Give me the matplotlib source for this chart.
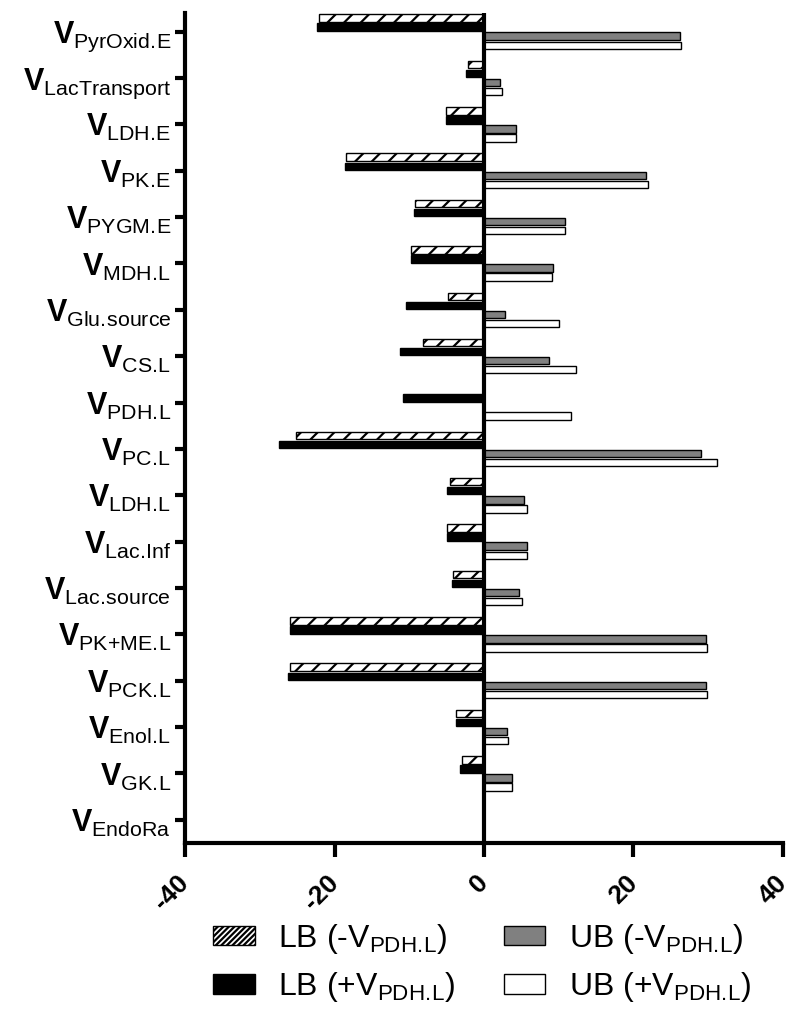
import matplotlib
matplotlib.use("Agg")
import matplotlib.pyplot as plt
import numpy as np
from matplotlib.patches import Patch

plt.rcParams['font.family'] = ['Liberation Sans', 'DejaVu Sans']
plt.rcParams['mathtext.fontset'] = 'custom'
plt.rcParams['mathtext.rm'] = 'Liberation Sans'
plt.rcParams['mathtext.bf'] = 'Liberation Sans:bold'
plt.rcParams['hatch.linewidth'] = 1.6

# fluxes, top to bottom
fluxes = ['PyrOxid.E', 'LacTransport', 'LDH.E', 'PK.E', 'PYGM.E', 'MDH.L',
          'Glu.source', 'CS.L', 'PDH.L', 'PC.L', 'LDH.L', 'Lac.Inf',
          'Lac.source', 'PK+ME.L', 'PCK.L', 'Enol.L', 'GK.L', 'EndoRa']

# lower bounds (negative) and upper bounds, without / with V_PDH.L
lb_minus = [-22.1, -2.2, -5.1, -18.4, -9.2, -9.7, -4.8, -8.1, 0.0, -25.1,
            -4.5, -4.9, -4.1, -25.9, -26.0, -3.7, -3.0, 0.0]
lb_plus = [-22.3, -2.4, -5.1, -18.6, -9.3, -9.8, -10.4, -11.2, -10.9, -27.4,
           -5.0, -5.0, -4.3, -25.9, -26.2, -3.8, -3.2, 0.0]
ub_minus = [26.2, 2.2, 4.3, 21.7, 10.9, 9.2, 2.8, 8.7, 0.0, 29.0,
            5.3, 5.7, 4.7, 29.7, 29.7, 3.1, 3.7, 0.0]
ub_plus = [26.4, 2.4, 4.3, 21.9, 10.9, 9.1, 10.1, 12.3, 11.7, 31.2,
           5.7, 5.7, 5.1, 29.9, 29.9, 3.2, 3.8, 0.0]


def sub(s):
    # mathtext puts a gap after '.', pull it back
    return s.replace('.', r'.\!').replace('+', '{+}')


fig = plt.figure(figsize=(7.92, 10.09), dpi=100)
ax = fig.add_axes([0.2336, 0.1645, 0.755, 0.8225])

y = np.arange(len(fluxes))
pitch = 0.195
h = 0.16

ax.barh(y - 1.5 * pitch, lb_minus, height=h, color='white', edgecolor='black',
        hatch='//', linewidth=1.0)
ax.barh(y - 0.5 * pitch, lb_plus, height=h, color='black', edgecolor='black',
        linewidth=1.0)
ax.barh(y + 0.5 * pitch, ub_minus, height=h, color='#808080', edgecolor='black',
        linewidth=1.0)
ax.barh(y + 1.5 * pitch, ub_plus, height=h, color='white', edgecolor='black',
        linewidth=1.0)

ax.axvline(0, color='black', linewidth=3, zorder=5)

ax.set_xlim(-40, 40)
ax.set_ylim(17.5, -0.4)
ax.set_xticks([-40, -20, 0, 20, 40])
ax.set_xticklabels(['-40', '-20', '0', '20', '40'], rotation=45,
                   ha='right', va='center', rotation_mode='anchor',
                   fontsize=19, fontweight='bold')
ax.set_yticks(y)
ax.set_yticklabels([r'$\mathbf{V}_{\mathrm{' + sub(f) + '}}$' for f in fluxes],
                   fontsize=22)

for s in ['top', 'right']:
    ax.spines[s].set_visible(False)
for s in ['left', 'bottom']:
    ax.spines[s].set_linewidth(3)
ax.tick_params(axis='x', length=10, width=3, pad=16)
ax.tick_params(axis='y', length=7, width=3, pad=3)

handles = [Patch(facecolor='white', edgecolor='black', hatch='//////', linewidth=1),
           Patch(facecolor='black', edgecolor='black', linewidth=1),
           Patch(facecolor='#808080', edgecolor='black', linewidth=1),
           Patch(facecolor='white', edgecolor='black', linewidth=1)]
labels = [r'LB (-V$_{\mathrm{' + sub('PDH.L') + '}}$)',
          r'LB (+V$_{\mathrm{' + sub('PDH.L') + '}}$)',
          r'UB (-V$_{\mathrm{' + sub('PDH.L') + '}}$)',
          r'UB (+V$_{\mathrm{' + sub('PDH.L') + '}}$)']
fig.legend(handles, labels, ncol=2, loc='upper left',
           bbox_to_anchor=(213 / 792, 1 - 922 / 1009), frameon=False,
           fontsize=23, handlelength=1.3, handleheight=0.55,
           handletextpad=0.75, columnspacing=1.5, labelspacing=0.45,
           borderpad=0, borderaxespad=0)

fig.savefig('out.png', dpi=100)
